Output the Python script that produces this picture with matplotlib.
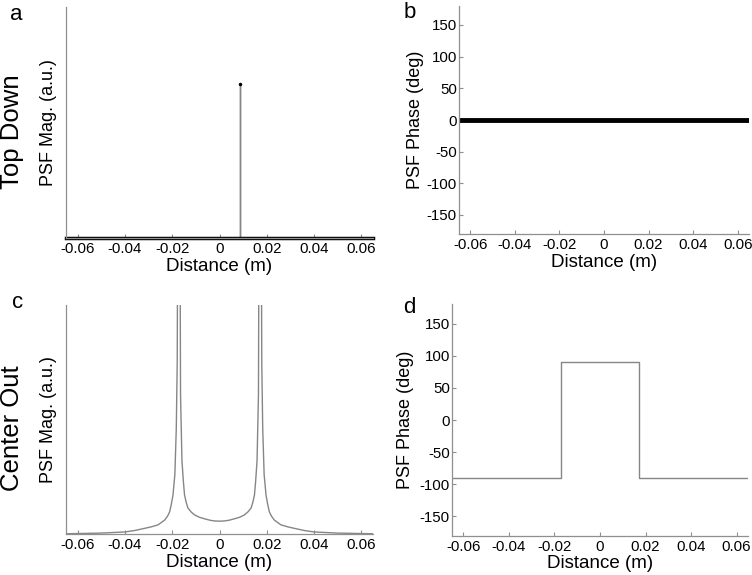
import matplotlib
matplotlib.use("Agg")
import matplotlib.pyplot as plt
import numpy as np

plt.rcParams['font.family'] = ['Liberation Sans', 'DejaVu Sans']

# ---------------- data ----------------
x_ticks = [-0.06, -0.04, -0.02, 0, 0.02, 0.04, 0.06]
x_tick_labels = ['-0.06', '-0.04', '-0.02', '0', '0.02', '0.04', '0.06']
phase_ticks = [-150, -100, -50, 0, 50, 100, 150]
phase_tick_labels = ['-150', '-100', '-50', '0', '50', '100', '150']

# Top Down: magnitude (single spike) and phase (flat zero)
td_dist = [-0.065, 0.0085, 0.0085, 0.0085, 0.065]
td_mag = [0.0, 0.0, 1.0, 0.0, 0.0]
td_phase_dist = [-0.065, 0.065]
td_phase = [0.0, 0.0]

# Center Out: magnitude (two peaks) and phase (rectangular)
co_dist = [-0.065, -0.060, -0.050, -0.040, -0.036, -0.032, -0.029, -0.026,
           -0.0232, -0.0220, -0.0211, -0.0204, -0.0197, -0.0189, -0.0183,
           -0.0179, -0.0172,
           -0.0165, -0.0159, -0.0153, -0.0148, -0.0141, -0.0134, -0.0120,
           -0.0105, -0.0085, -0.0062, -0.0040, -0.0021, 0.0,
           0.0021, 0.0040, 0.0062, 0.0085, 0.0105, 0.0120, 0.0134, 0.0141,
           0.0148, 0.0153, 0.0159, 0.0165,
           0.0172, 0.0179, 0.0183, 0.0189, 0.0197, 0.0204, 0.0211, 0.0220,
           0.0232, 0.026, 0.029, 0.032, 0.036, 0.040, 0.050, 0.060, 0.065]
co_mag = [0.001, 0.002, 0.004, 0.009, 0.015, 0.024, 0.031, 0.040,
          0.061, 0.078, 0.097, 0.13, 0.17, 0.26, 0.46,
          0.75, 3.0,
          0.61, 0.32, 0.23, 0.17, 0.138, 0.114, 0.096,
          0.083, 0.073, 0.066, 0.060, 0.057, 0.056,
          0.057, 0.060, 0.066, 0.073, 0.083, 0.096, 0.114, 0.138,
          0.17, 0.23, 0.32, 0.61,
          3.0, 0.75, 0.46, 0.26, 0.17, 0.13, 0.097, 0.078,
          0.061, 0.040, 0.031, 0.024, 0.015, 0.009, 0.004, 0.002, 0.001]
co_phase_dist = [-0.065, -0.0173, -0.0173, 0.0172, 0.0172, 0.065]
co_phase = [-90, -90, 90, 90, -90, -90]

# ---------------- figure ----------------
W, H = 752, 575
fig = plt.figure(figsize=(W / 100, H / 100), dpi=100)

def box(l, t, r, b):
    return [l / W, 1 - b / H, (r - l) / W, (b - t) / H]

ax_a = fig.add_axes(box(66, 7, 373, 238))
ax_b = fig.add_axes(box(459, 6, 749, 234))
ax_c = fig.add_axes(box(66, 305, 373, 534))
ax_d = fig.add_axes(box(452, 304.4, 748, 535.6))

line_gray = '#868686'
spine_gray = '#8f8f8f'

def style(ax, phase):
    for s in ['top', 'right']:
        ax.spines[s].set_visible(False)
    for s in ['left', 'bottom']:
        ax.spines[s].set_color(spine_gray)
        ax.spines[s].set_linewidth(0.9)
    ax.set_xlim(-0.065, 0.065)
    ax.set_xticks(x_ticks)
    ax.set_xticklabels(x_tick_labels)
    ax.tick_params(direction='in', length=3, width=0.8, color=spine_gray,
                   labelsize=10.8, pad=3)
    ax.set_xlabel('Distance (m)', fontsize=13.5, labelpad=1)
    if phase:
        ax.set_ylim(-180, 180)
        ax.set_yticks(phase_ticks)
        ax.set_yticklabels(phase_tick_labels)
        ax.tick_params(axis='y', pad=1.5)
        ax.set_ylabel('PSF Phase (deg)', fontsize=13)
    else:
        ax.set_yticks([])
        ax.set_ylabel('PSF Mag. (a.u.)', fontsize=13)

# a
style(ax_a, False)
ax_a.set_ylim(0, 1.5)
ax_a.plot(td_dist, td_mag, color=line_gray, lw=1)
td_d = np.array(td_dist)
td_m = np.array(td_mag)
zero = td_m == 0
ax_a.plot(td_d[zero], td_m[zero], color='black', lw=2.5, clip_on=False)
ax_a.plot(td_d[~zero], td_m[~zero], 'k.', ms=3)
ax_a.yaxis.set_label_coords(-0.028, 0.5)

# b
style(ax_b, True)
ax_b.plot(td_phase_dist, td_phase, color='black', lw=3.5)
ax_b.yaxis.set_label_coords(-0.121, 0.5)

# c
style(ax_c, False)
ax_c.set_ylim(0, 1)
ax_c.plot(co_dist, co_mag, color=line_gray, lw=1)
ax_c.yaxis.set_label_coords(-0.028, 0.5)

# d
style(ax_d, True)
ax_d.plot(co_phase_dist, co_phase, color=line_gray, lw=1)
ax_d.yaxis.set_label_coords(-0.128, 0.5)

# panel letters and row titles
fig.text(10 / W, 1 - 20 / H, 'a', fontsize=16, ha='left', va='baseline')
fig.text(404 / W, 1 - 18 / H, 'b', fontsize=16, ha='left', va='baseline')
fig.text(12 / W, 1 - 308 / H, 'c', fontsize=16, ha='left', va='baseline')
fig.text(403 / W, 1 - 313 / H, 'd', fontsize=16, ha='left', va='baseline')
fig.text(12 / W, 1 - 132 / H, 'Top Down', fontsize=18.5, rotation=90,
         ha='center', va='center')
fig.text(12 / W, 1 - 428 / H, 'Center Out', fontsize=18.5, rotation=90,
         ha='center', va='center')

fig.savefig('out.png', dpi=100)
